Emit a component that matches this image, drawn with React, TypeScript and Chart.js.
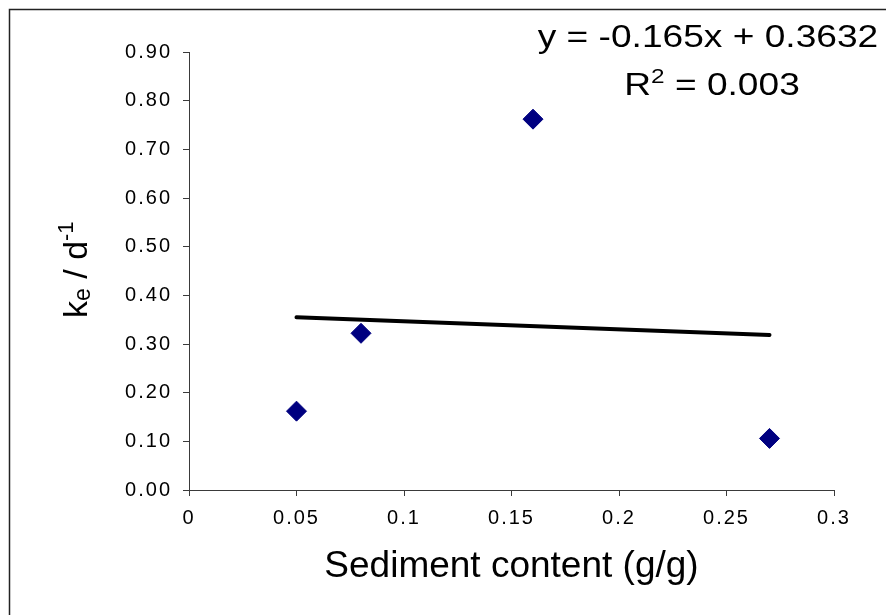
import React, { useEffect, useRef } from "react";
import { Chart, registerables } from "chart.js";

Chart.register(...registerables);

// ---- data ----
const sedimentContent = [0.05, 0.08, 0.16, 0.27];
const keValues = [0.162, 0.322, 0.762, 0.106];
const trendSlope = -0.165;
const trendIntercept = 0.3632;
const trendXRange = [0.05, 0.27];
const xTickRange = [0, 0.3, 0.05];
const yTickRange = [0, 0.9, 0.1];
const equationText = "y = -0.165x + 0.3632";
const rSquaredText = ["R", "2", " = 0.003"];
const xTitle = "Sediment content (g/g)";
const yTitleParts = ["k", "e", " / d", "-1"];

const FONT = "'Liberation Sans', Arial, Helvetica, sans-serif";

const overlayPlugin = {
  id: "overlay",
  beforeDraw(chart: any) {
    (chart.ctx as any).letterSpacing = "2px";
  },
  afterDraw(chart: any) {
    const ctx = chart.ctx as CanvasRenderingContext2D;
    ctx.save();
    (ctx as any).letterSpacing = "0px";
    // outer frame
    ctx.strokeStyle = "#222";
    ctx.lineWidth = 1.5;
    ctx.beginPath();
    ctx.moveTo(9.5, 700);
    ctx.lineTo(9.5, 9.5);
    ctx.lineTo(900, 9.5);
    ctx.stroke();

    ctx.fillStyle = "#000";
    // x title
    const ca = chart.chartArea;
    ctx.font = `37px ${FONT}`;
    ctx.textAlign = "center";
    ctx.textBaseline = "alphabetic";
    ctx.fillText(xTitle, (ca.left + ca.right) / 2, 577);

    // equation (horizontally widened like the reference)
    const sx = 1.16;
    ctx.save();
    ctx.scale(sx, 1);
    ctx.font = `32px ${FONT}`;
    ctx.fillText(equationText, 708 / sx, 47);
    const big = `32px ${FONT}`;
    const small = `21px ${FONT}`;
    ctx.font = big;
    const wR = ctx.measureText(rSquaredText[0]).width;
    const wRest = ctx.measureText(rSquaredText[2]).width;
    ctx.font = small;
    const w2 = ctx.measureText(rSquaredText[1]).width;
    let x = 712 / sx - (wR + w2 + wRest) / 2;
    ctx.textAlign = "left";
    ctx.font = big;
    ctx.fillText(rSquaredText[0], x, 95);
    x += wR;
    ctx.font = small;
    ctx.fillText(rSquaredText[1], x, 83);
    x += w2;
    ctx.font = big;
    ctx.fillText(rSquaredText[2], x, 95);
    ctx.restore();

    // y title (rotated)
    ctx.textAlign = "left";
    ctx.textBaseline = "alphabetic";
    ctx.translate(87, 318);
    ctx.rotate(-Math.PI / 2);
    let cx = 0;
    const parts: [string, string, number][] = [
      [yTitleParts[0], `34px ${FONT}`, 0],
      [yTitleParts[1], `23px ${FONT}`, 3],
      [yTitleParts[2], `34px ${FONT}`, 0],
      [yTitleParts[3], `22px ${FONT}`, -14],
    ];
    for (const [t, f, dy] of parts) {
      ctx.font = f;
      ctx.fillText(t, cx, dy);
      cx += ctx.measureText(t).width;
    }
    ctx.restore();
  },
};

export default function App() {
  const ref = useRef<HTMLCanvasElement | null>(null);
  useEffect(() => {
    if (!ref.current) return;
    const scatterData = sedimentContent.map((x, i) => ({ x, y: keValues[i] }));
    const trendData = trendXRange.map((x) => ({ x, y: trendSlope * x + trendIntercept }));
    const axisColor = "#3a3a3a";
    const chart = new Chart(ref.current, {
      type: "scatter",
      data: {
        datasets: [
          {
            type: "line",
            data: trendData,
            borderColor: "#000",
            borderWidth: 4,
            borderCapStyle: "round",
            pointRadius: 0,
            fill: false,
            order: 1,
          } as any,
          {
            type: "scatter",
            data: scatterData,
            pointStyle: "rectRot",
            pointRadius: 10,
            pointBackgroundColor: "#000080",
            pointBorderColor: "#000080",
            pointBorderWidth: 1,
            order: 2,
          } as any,
        ],
      },
      options: {
        responsive: false,
        animation: false,
        layout: { padding: { top: 52, right: 52, left: 0, bottom: 0 } },
        plugins: { legend: { display: false }, tooltip: { enabled: false } },
        scales: {
          x: {
            type: "linear",
            min: xTickRange[0],
            max: xTickRange[1],
            afterFit: (s: any) => {
              s.height = 125;
            },
            ticks: {
              stepSize: xTickRange[2],
              color: "#000",
              font: { family: FONT, size: 20 },
              padding: 10,
              callback: (v: any) => String(parseFloat(Number(v).toFixed(2))),
            },
            grid: {
              display: true,
              drawOnChartArea: false,
              drawTicks: true,
              tickLength: 6,
              color: axisColor,
              tickColor: axisColor,
            },
            border: { display: true, color: axisColor, width: 1 },
          },
          y: {
            type: "linear",
            min: yTickRange[0],
            max: yTickRange[1],
            afterFit: (s: any) => {
              s.width = 189;
            },
            ticks: {
              stepSize: yTickRange[2],
              color: "#000",
              font: { family: FONT, size: 20 },
              padding: 11,
              callback: (v: any) => Number(v).toFixed(2),
            },
            grid: {
              display: true,
              drawOnChartArea: false,
              drawTicks: true,
              tickLength: 6,
              color: axisColor,
              tickColor: axisColor,
            },
            border: { display: true, color: axisColor, width: 1 },
          },
        },
      },
      plugins: [overlayPlugin],
    });
    return () => chart.destroy();
  }, []);
  return (
    <div style={{ position: "fixed", left: 0, top: 0, width: 886, height: 615, background: "#fff" }}>
      <canvas ref={ref} width={886} height={615} style={{ display: "block" }} />
    </div>
  );
}
